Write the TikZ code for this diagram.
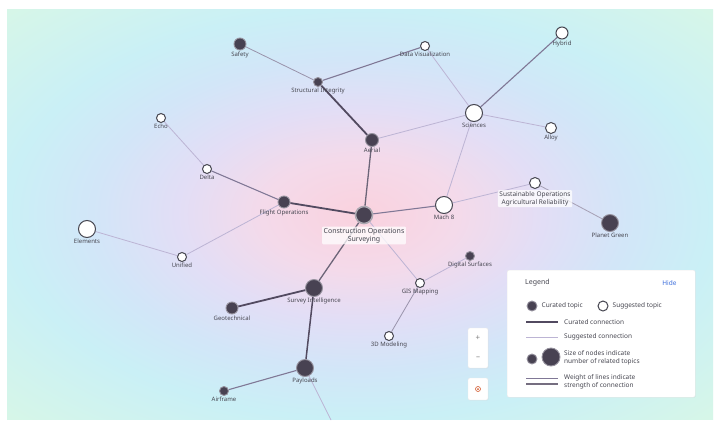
\documentclass[tikz,border=0pt]{standalone}
\usepackage{fontspec}
\setmainfont{Noto Sans}
\usetikzlibrary{positioning,backgrounds,shadows}

\definecolor{pinkc}{RGB}{250,210,222}
\definecolor{pinklc}{RGB}{244,218,234}
\definecolor{lavc}{RGB}{226,222,246}
\definecolor{bluec}{RGB}{210,230,248}
\definecolor{cyanc}{RGB}{202,240,246}
\definecolor{greenc}{RGB}{214,246,232}
\definecolor{nodedark}{RGB}{72,66,82}
\definecolor{ringgray}{RGB}{150,146,158}
\definecolor{txtgray}{RGB}{70,70,80}
\definecolor{edgedark}{RGB}{82,74,96}
\definecolor{edgemid}{RGB}{128,120,150}
\definecolor{edgelight}{RGB}{188,180,212}
\definecolor{hideblue}{RGB}{60,110,220}

\pgfdeclareradialshading{bgshade}{\pgfpoint{0bp}{0bp}}{%
  color(0bp)=(pinkc); color(7bp)=(pinklc); color(13bp)=(lavc); color(19bp)=(bluec);
  color(25bp)=(cyanc); color(35bp)=(greenc); color(50bp)=(greenc)}

\begin{document}
\begin{tikzpicture}[x=1pt, y=-1pt, font=\fontsize{6}{7}\selectfont,
    cur/.style = {circle, fill=nodedark, draw=ringgray, line width=0.9pt, minimum size=#1, inner sep=0pt},
    sug/.style = {circle, fill=white, draw=txtgray, line width=1pt, minimum size=#1, inner sep=0pt},
    lbl/.style = {text=txtgray, inner sep=1pt},
    boxlbl/.style = {text=txtgray, fill=white, fill opacity=0.75, text opacity=1, rounded corners=1pt, align=center, inner sep=1.5pt, font=\fontsize{6.5}{7.5}\selectfont},
    strong/.style = {draw=edgedark, line width=1.8pt},
    mid/.style = {draw=edgemid, line width=1.1pt},
    weak/.style = {draw=edgelight, line width=0.8pt},
    ctrl/.style = {fill=white, draw=gray!15, rounded corners=1.5pt, drop shadow={opacity=0.1, shadow xshift=0.5pt, shadow yshift=-0.5pt}}]
\useasboundingbox (0,0) rectangle (720,426);

% topics
\node[cur=12pt, label={[lbl]below:Safety}] (safety) at (240,44) {};
\node[sug=9pt, label={[lbl]below:Data Visualization}] (datavis) at (425,46) {};
\node[sug=12pt, label={[lbl]below:Hybrid}] (hybrid) at (562,33) {};
\node[cur=9pt, label={[lbl]below:Structural Integrity}] (structint) at (318,82) {};
\node[sug=17pt, label={[lbl]below:Sciences}] (sciences) at (474,113) {};
\node[sug=11pt, label={[lbl]below:Alloy}] (alloy) at (551,128) {};
\node[cur=13pt, label={[lbl]below:Aerial}] (aerial) at (372,140) {};
\node[sug=9pt, label={[lbl]below:Echo}] (echo) at (161,118) {};
\node[sug=9pt, label={[lbl]below:Delta}] (delta) at (207,169) {};
\node[cur=12pt, label={[lbl]below:Flight Operations}] (flightops) at (284,202) {};
\node[cur=17pt, draw=ringgray!80, line width=1.6pt] (center) at (364,215) {};
\node[boxlbl, below=2pt of center, font=\fontsize{7}{8}\selectfont] (centerlbl) {Construction Operations\\Surveying};
\node[sug=17pt, label={[lbl]below:Mach 8}] (mach) at (444,205) {};
\node[sug=11pt] (sustain) at (535,183) {};
\node[boxlbl, below=1pt of sustain] (sustainlbl) {Sustainable Operations\\Agricultural Reliability};
\node[cur=17pt, label={[lbl]below:Planet Green}] (planet) at (610,223) {};
\node[sug=17pt, label={[lbl]below:Elements}] (elements) at (87,229) {};
\node[sug=9pt, label={[lbl]below:Unified}] (unified) at (182,257) {};
\node[cur=9pt, label={[lbl]below:Digital Surfaces}] (digital) at (470,256) {};
\node[sug=9pt, label={[lbl]below:GIS Mapping}] (gis) at (420,283) {};
\node[cur=17pt, label={[lbl]below:Survey Intelligence}] (survey) at (314,288) {};
\node[cur=12pt, label={[lbl]below:Geotechnical}] (geotech) at (232,308) {};
\node[sug=9pt, label={[lbl]below:3D Modeling}] (modeling) at (389,336) {};
\node[cur=17pt, label={[lbl]below:Payloads}] (payloads) at (305,368) {};
\node[cur=9pt, label={[lbl]below:Airframe}] (airframe) at (224,391) {};
\coordinate (offdown) at (331,420);

% background and connections
\begin{pgfonlayer}{background}
\fill[white] (0,0) rectangle (720,426);
\shade[shading=bgshade] (7,9) rectangle (713,419);
\draw[mid, draw=edgemid!80, line width=0.8pt] (safety) -- (structint);
\draw[mid] (structint) -- (datavis);
\draw[strong] (structint) -- (aerial);
\draw[weak] (datavis) -- (sciences);
\draw[mid] (sciences) -- (hybrid);
\draw[weak] (sciences) -- (alloy);
\draw[weak] (aerial) -- (sciences);
\draw[weak] (sciences) -- (mach);
\draw[mid, draw=edgedark!85, line width=1.3pt] (aerial) -- (center);
\draw[weak] (echo) -- (delta);
\draw[mid] (delta) -- (flightops);
\draw[strong] (flightops) -- (center);
\draw[weak] (flightops) -- (unified);
\draw[weak] (unified) -- (elements);
\draw[mid] (center) -- (mach);
\draw[weak] (mach) -- (sustain);
\draw[weak, draw=edgemid!70] (sustain) -- (planet);
\draw[mid, draw=edgedark!85, line width=1.3pt] (center) -- (survey);
\draw[weak] (center) -- (gis);
\draw[weak] (gis) -- (digital);
\draw[weak, draw=edgemid!80] (gis) -- (modeling);
\draw[strong] (survey) -- (geotech);
\draw[strong, line width=1.5pt] (survey) -- (payloads);
\draw[mid] (payloads) -- (airframe);
\draw[weak] (payloads) -- (offdown);
\end{pgfonlayer}

% zoom controls
\node[ctrl, minimum width=20pt, minimum height=40pt] (zoombox) at (478,348) {};
\node[text=gray, font=\fontsize{8}{8}\selectfont] (zoomin) at (478,338) {+};
\node[text=gray, font=\fontsize{8}{8}\selectfont] (zoomout) at (478,358) {\textendash};
\node[ctrl, minimum width=20pt, minimum height=22pt] (recenter) at (478,389) {};
\node[circle, draw=brown!70!red, line width=0.6pt, minimum size=5pt, inner sep=0pt] (recentericon) at (recenter) {};
\fill[brown!70!red] (recentericon) circle (1pt);

% legend
\begin{scope}[font=\fontsize{6.5}{7.5}\selectfont]
\node[ctrl, minimum width=188pt, minimum height=127pt, anchor=north west, rounded corners=2pt] (legend) at (507,270) {};
\node[lbl, anchor=west, font=\fontsize{7}{8}\selectfont] (legtitle) at (524,283) {Legend};
\node[anchor=east, text=hideblue] (leghide) at (680,283) {Hide};
\node[cur=10pt] (legcur) at (532,306) {};
\node[lbl, right=3pt of legcur] (legcurtxt) {Curated topic};
\node[sug=10pt] (legsug) at (603,306) {};
\node[lbl, right=3pt of legsug] (legsugtxt) {Suggested topic};
\coordinate (lc1) at (526,322); \coordinate (lc2) at (558,322);
\draw[edgedark, line width=1.1pt] (lc1) -- (lc2);
\node[lbl, anchor=west] (lctxt) at (563,322) {Curated connection};
\coordinate (ls1) at (526,337); \coordinate (ls2) at (558,337);
\draw[edgelight, line width=1pt] (ls1) -- (ls2);
\node[lbl, anchor=west] (lstxt) at (563,337) {Suggested connection};
\node[cur=10pt] (legsmall) at (532,359) {};
\node[cur=18pt] (legbig) at (551,357) {};
\node[lbl, anchor=west, align=left] (legsizetxt) at (563,358) {Size of nodes indicate\\number of related topics};
\coordinate (lw1) at (526,378); \coordinate (lw2) at (558,378);
\coordinate (lw3) at (526,384); \coordinate (lw4) at (558,384);
\draw[edgemid, line width=0.6pt] (lw1) -- (lw2);
\draw[edgedark!80, line width=1.8pt] (lw3) -- (lw4);
\node[lbl, anchor=west, align=left] (legweighttxt) at (563,382) {Weight of lines indicate\\strength of connection};
\end{scope}
\end{tikzpicture}
\end{document}
